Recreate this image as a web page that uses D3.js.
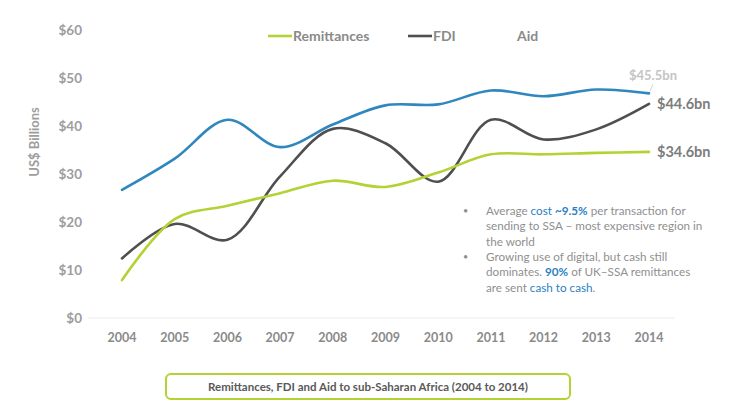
<!DOCTYPE html>
<html><head><meta charset="utf-8">
<script src="https://cdn.jsdelivr.net/npm/d3@7"></script>
<style>body{margin:0;background:#fff}svg{display:block}</style>
</head><body><svg id="c" width="736" height="406"></svg>
<script>
const years = [2004,2005,2006,2007,2008,2009,2010,2011,2012,2013,2014];
const remittances = [7.9,20.6,23.4,26.0,28.6,27.3,30.3,34.1,34.1,34.4,34.6];
const fdi = [12.4,19.6,16.3,29.5,39.4,36.4,28.4,41.3,37.2,39.3,44.6];
const aid = [26.7,33.2,41.3,35.6,40.3,44.3,44.5,47.4,46.2,47.6,46.8];
const yTicks = [0,10,20,30,40,50,60];
const seriesNames = ["Remittances","FDI","Aid"];
const endLabels = ["$34.6bn","$44.6bn","$45.5bn"];
const title = "Remittances, FDI and Aid to sub-Saharan Africa (2004 to 2014)";

const svg = d3.select("#c");
const font = "Lato, 'Open Sans', sans-serif";
const colors = {Remittances:"#b3d234", FDI:"#4f4f4f", Aid:"#2f87be"};
const x = d3.scalePoint().domain(years).range([122,649]);
const y = d3.scaleLinear().domain([0,60]).range([318,30]);

// baseline gridline
svg.append("line").attr("x1",88).attr("x2",675).attr("y1",y(0)).attr("y2",y(0))
  .attr("stroke","#ececec").attr("stroke-width",1);

// y tick labels
svg.append("g").selectAll("text").data(yTicks).join("text")
  .attr("x",82).attr("y",d=>y(d)).attr("dy","0.35em").attr("text-anchor","end")
  .attr("font-family",font).attr("font-weight","bold").attr("font-size",13.5)
  .attr("fill","#9d9d9d").text(d=>"$"+d);
// x tick labels
svg.append("g").selectAll("text").data(years).join("text")
  .attr("x",d=>x(d)).attr("y",338).attr("dy","0.35em").attr("text-anchor","middle")
  .attr("font-family",font).attr("font-weight","bold").attr("font-size",12.5)
  .attr("fill","#8a8a8a").text(d=>d);
// y title
svg.append("text").attr("transform","translate(39,142) rotate(-90)")
  .attr("text-anchor","middle").attr("font-family",font).attr("font-weight","bold")
  .attr("font-size",13).attr("fill","#9d9d9d").text("US$ Billions");

const line = d3.line().x((d,i)=>x(years[i])).y(d=>y(d)).curve(d3.curveCatmullRom.alpha(0.5));
const data = {Remittances:remittances, FDI:fdi, Aid:aid};
["Aid","FDI","Remittances"].forEach(k=>{
  svg.append("path").attr("d",line(data[k])).attr("fill","none")
    .attr("stroke",colors[k]).attr("stroke-width",2.6).attr("stroke-linecap","round");
});

// end labels
svg.append("text").attr("x",657).attr("y",y(fdi[10])).attr("dy","0.35em")
  .attr("font-family",font).attr("font-weight","bold").attr("font-size",14.5)
  .attr("fill","#7d7d7d").text(endLabels[1]);
svg.append("text").attr("x",657).attr("y",y(remittances[10])).attr("dy","0.35em")
  .attr("font-family",font).attr("font-weight","bold").attr("font-size",14.5)
  .attr("fill","#7d7d7d").text(endLabels[0]);
svg.append("line").attr("x1",x(2014)+1).attr("y1",y(aid[10])-2).attr("x2",x(2014)+4).attr("y2",y(aid[10])-9)
  .attr("stroke","#d5d5d5").attr("stroke-width",1);
svg.append("text").attr("x",629).attr("y",75).attr("dy","0.35em")
  .attr("font-family",font).attr("font-weight","bold").attr("font-size",13)
  .attr("fill","#c4c4c4").text(endLabels[2]);

// legend
const leg = [{k:"Remittances",x:268},{k:"FDI",x:408},{k:"Aid",x:492}];
leg.forEach(l=>{
  if(l.k!=="Aid") svg.append("line").attr("x1",l.x).attr("x2",l.x+24).attr("y1",36).attr("y2",36)
    .attr("stroke",colors[l.k]).attr("stroke-width",2.6);
  svg.append("text").attr("x",l.x+25).attr("y",36).attr("dy","0.35em")
    .attr("font-family",font).attr("font-weight","bold").attr("font-size",14)
    .attr("fill","#8a8a8a").text(l.k);
});

// annotation
const ann = svg.append("g").attr("font-family",font).attr("font-size",11.7).attr("fill","#8f8f8f");
[211,257].forEach(yy=>ann.append("text").attr("x",463).attr("y",yy).attr("dy","0.35em").text("•").attr("font-size",9));
const blue = "#2a7fc3";
const lines = [
  [["Average ",0,0],["cost ",1,0],["~9.5%",1,1],[" per transaction for",0,0]],
  [["sending to SSA – most expensive region in",0,0]],
  [["the world",0,0]],
  [["Growing use of digital, but cash still",0,0]],
  [["dominates. ",0,0],["90%",1,1],[" of UK–SSA remittances",0,0]],
  [["are sent ",0,0],["cash to cash",1,0],[".",0,0]]
];
lines.forEach((ln,i)=>{
  const t = ann.append("text").attr("x",486).attr("y",211+i*15.3).attr("dy","0.35em");
  ln.forEach(s=>t.append("tspan").text(s[0]).attr("fill",s[1]?blue:"#8f8f8f")
    .attr("font-weight",s[2]?"bold":"normal"));
});

// title box
svg.append("rect").attr("x",166).attr("y",374).attr("width",404).attr("height",25).attr("rx",5)
  .attr("fill","#fff").attr("stroke","#b3d234").attr("stroke-width",2);
svg.append("text").attr("x",368).attr("y",386.5).attr("dy","0.35em").attr("text-anchor","middle")
  .attr("font-family",font).attr("font-weight","bold").attr("font-size",11.5)
  .attr("fill","#595959").text(title);
</script></body></html>
